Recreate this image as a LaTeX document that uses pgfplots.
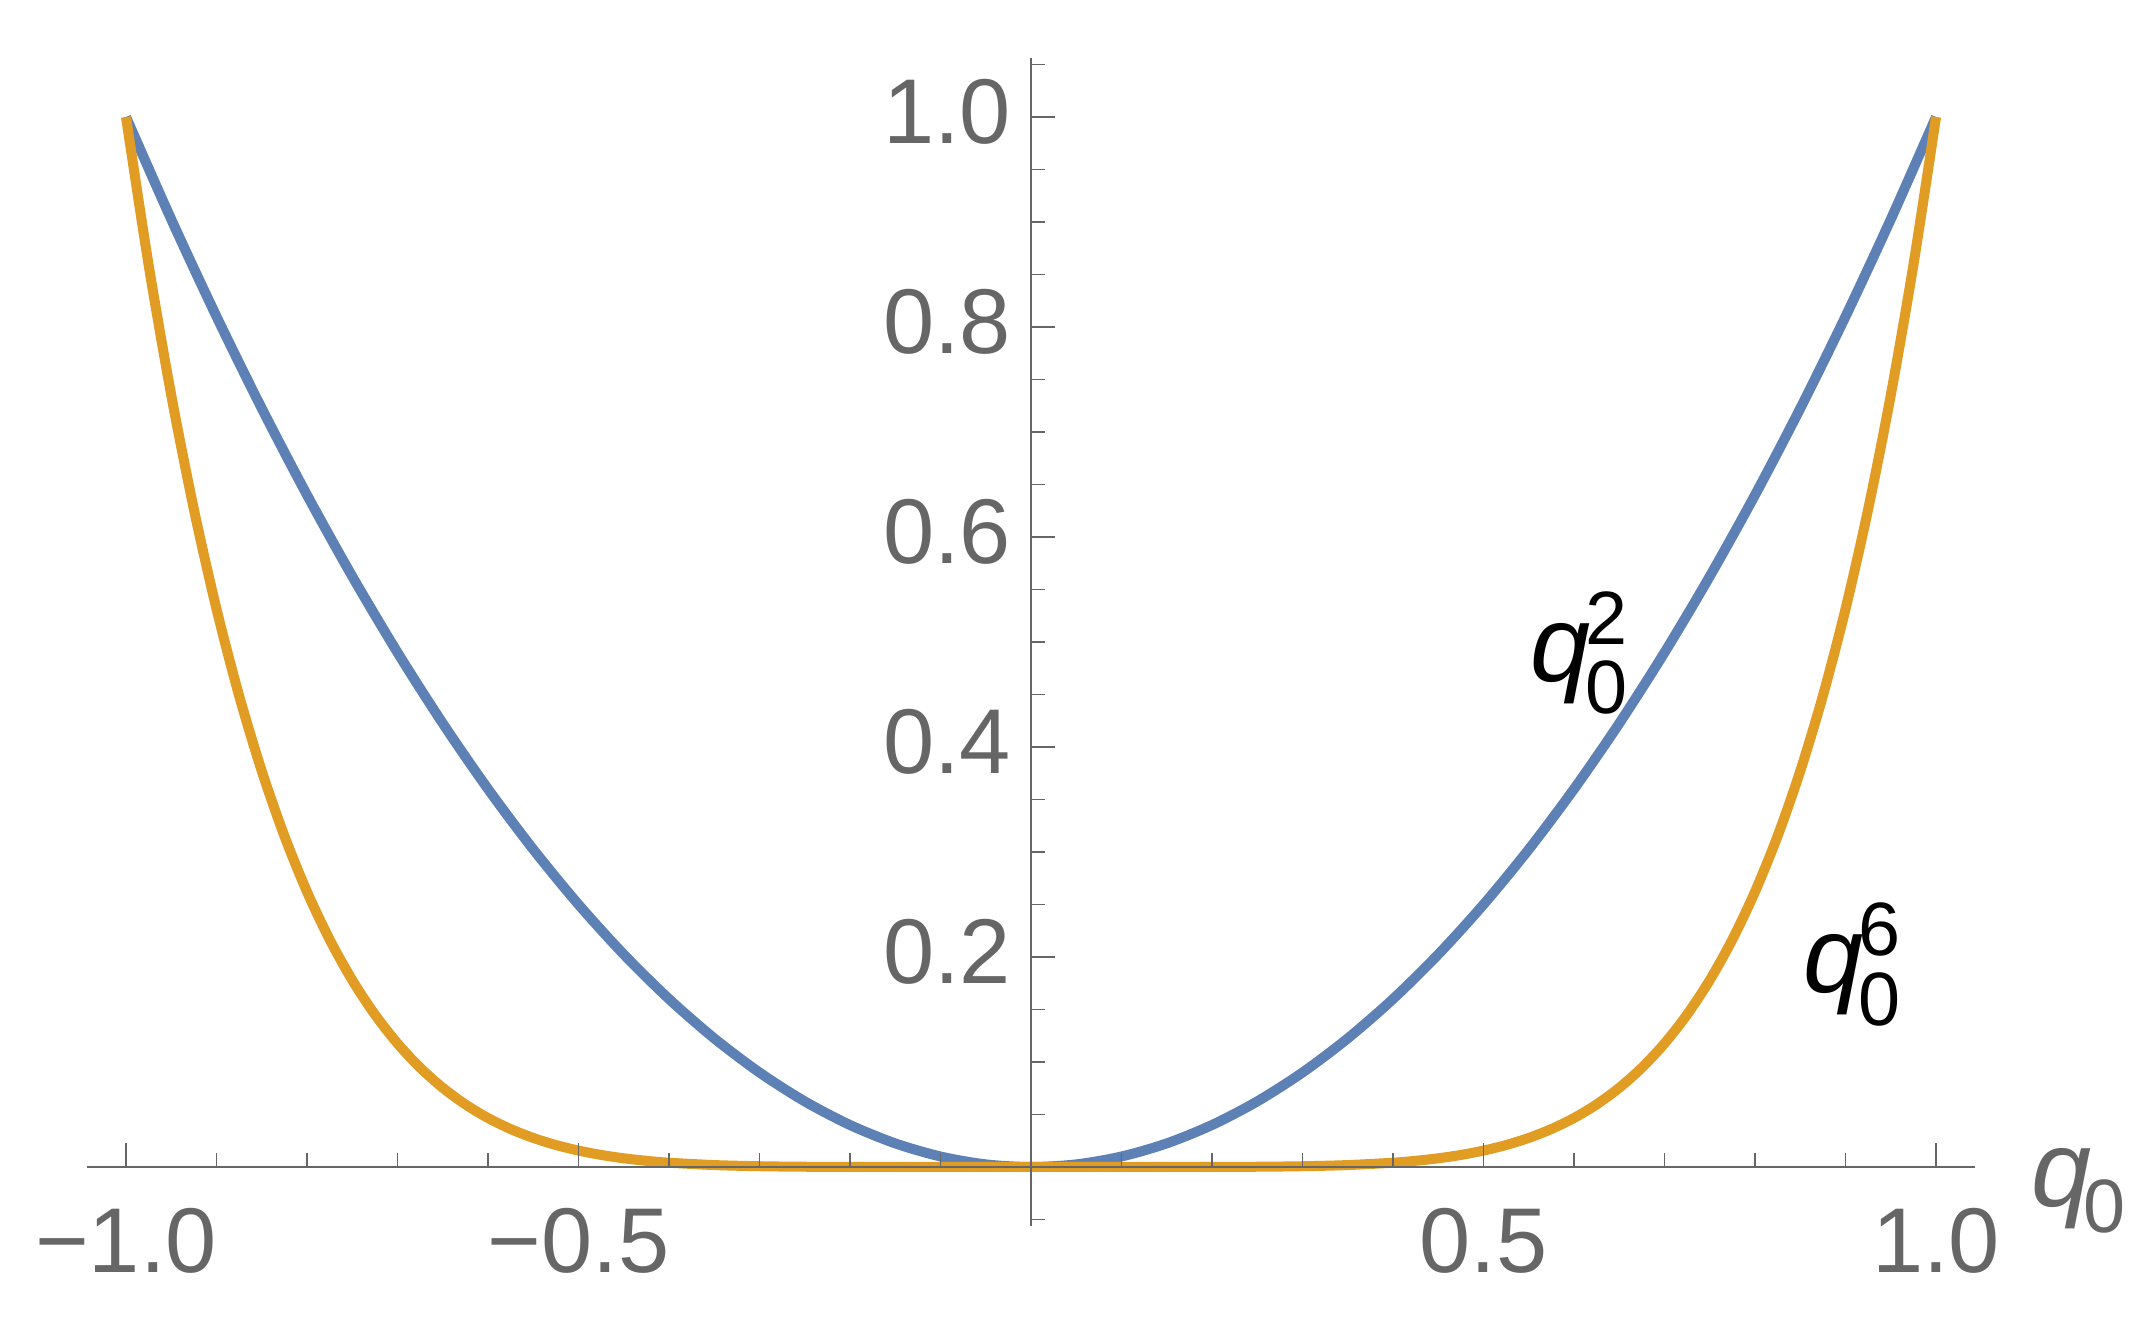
\documentclass[border=0pt]{standalone}
\usepackage{amsmath}
\usepackage{pgfplots}
\pgfplotsset{compat=1.18}
\usepackage{fontspec}
\setmainfont{Liberation Sans}
\definecolor{axgray}{rgb}{0.4,0.4,0.4}
\definecolor{mblue}{rgb}{0.368417,0.506779,0.709798}
\definecolor{morange}{rgb}{0.880722,0.611041,0.142051}
\newcommand{\lblfont}{\fontsize{21.6}{24}\selectfont}
\begin{document}
\begin{tikzpicture}
\begin{axis}[
  x=181pt, y=210pt,
  xmin=-1.043, xmax=1.043, ymin=-0.056, ymax=1.056,
  axis lines=middle,
  axis on top,
  axis line style={draw=axgray, line width=0.35pt, -},
  tick align=inside,
  major tick length=4.7pt, minor tick length=2.8pt,
  tick style={draw=axgray, line width=0.35pt},
  every minor tick/.style={draw=axgray, line width=0.35pt},
  xtick={-1,-0.5,0.5,1}, xticklabels={−1.0,−0.5,0.5,1.0},
  minor xtick={-0.9,-0.8,-0.7,-0.6,-0.4,-0.3,-0.2,-0.1,0.1,0.2,0.3,0.4,0.6,0.7,0.8,0.9},
  ytick={0.2,0.4,0.6,0.8,1.0}, yticklabels={0.2,0.4,0.6,0.8,1.0},
  minor ytick={-0.05,0.05,0.1,0.15,0.25,0.3,0.35,0.45,0.5,0.55,0.65,0.7,0.75,0.85,0.9,0.95,1.05},
  ticklabel style={font=\fontsize{18.4}{20}\selectfont, text=axgray, inner sep=0pt},
  xticklabel style={anchor=north, yshift=-8pt},
  yticklabel style={anchor=east, xshift=-3.8pt, yshift=1.1pt},
  clip=false,
]
\addplot[mblue, line width=2pt, smooth, line join=round] coordinates {
(-1,1) (-0.95,0.9025) (-0.9,0.81) (-0.85,0.7225) (-0.8,0.64) (-0.75,0.5625) (-0.7,0.49) (-0.65,0.4225) (-0.6,0.36) (-0.55,0.3025) (-0.5,0.25) (-0.45,0.2025) (-0.4,0.16) (-0.35,0.1225) (-0.3,0.09) (-0.25,0.0625) (-0.2,0.04) (-0.15,0.0225) (-0.1,0.01) (-0.05,0.0025) (0,0)
(0.05,0.0025) (0.1,0.01) (0.15,0.0225) (0.2,0.04) (0.25,0.0625) (0.3,0.09) (0.35,0.1225) (0.4,0.16) (0.45,0.2025) (0.5,0.25) (0.55,0.3025) (0.6,0.36) (0.65,0.4225) (0.7,0.49) (0.75,0.5625) (0.8,0.64) (0.85,0.7225) (0.9,0.81) (0.95,0.9025) (1,1)
};
\addplot[morange, line width=2pt, smooth, line join=round] coordinates {
(-1,1) (-0.975,0.859068) (-0.95,0.735092) (-0.925,0.626398) (-0.9,0.531441) (-0.875,0.448795) (-0.85,0.377150) (-0.825,0.315300) (-0.8,0.262144) (-0.775,0.216676) (-0.75,0.177979) (-0.725,0.145221) (-0.7,0.117649) (-0.675,0.094585) (-0.65,0.075419) (-0.625,0.059605) (-0.6,0.046656) (-0.575,0.036141) (-0.55,0.027681) (-0.525,0.020939) (-0.5,0.015625) (-0.475,0.011486) (-0.45,0.008304) (-0.425,0.005893) (-0.4,0.004096) (-0.35,0.001838) (-0.3,0.000729) (-0.25,0.000244) (-0.2,0.000064) (-0.15,0.000011) (-0.1,0.000001) (0,0)
(0.1,0.000001) (0.15,0.000011) (0.2,0.000064) (0.25,0.000244) (0.3,0.000729) (0.35,0.001838) (0.4,0.004096) (0.425,0.005893) (0.45,0.008304) (0.475,0.011486) (0.5,0.015625) (0.525,0.020939) (0.55,0.027681) (0.575,0.036141) (0.6,0.046656) (0.625,0.059605) (0.65,0.075419) (0.675,0.094585) (0.7,0.117649) (0.725,0.145221) (0.75,0.177979) (0.775,0.216676) (0.8,0.262144) (0.825,0.315300) (0.85,0.377150) (0.875,0.448795) (0.9,0.531441) (0.925,0.626398) (0.95,0.735092) (0.975,0.859068) (1,1)
};
\node[anchor=base west, inner sep=0pt, text=black, font=\lblfont] at (axis cs:0.551,0.462) {$\text{\itshape q}_{\kern-1pt\text{0}}^{\kern-1pt\text{2}}$};
\node[anchor=base west, inner sep=0pt, text=black, font=\lblfont] at (axis cs:0.852,0.166) {$\text{\itshape q}_{\kern-1pt\text{0}}^{\kern-1pt\text{6}}$};
\node[anchor=base west, inner sep=0pt, text=axgray, font=\lblfont] at (axis cs:1.104,-0.038) {$\text{\itshape q}_{\kern-1.5pt\text{0}}$};
\coordinate (O) at (axis cs:0,0);
\end{axis}
\pgfresetboundingbox
\path[use as bounding box] ([shift={(-206.2pt,-34pt)}]O) rectangle ([shift={(224.4pt,233.4pt)}]O);
\end{tikzpicture}
\end{document}
